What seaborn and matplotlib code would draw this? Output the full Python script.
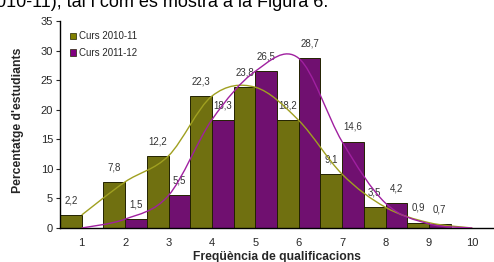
import numpy as np
import pandas as pd
import matplotlib
matplotlib.use("Agg")
import matplotlib.pyplot as plt
from matplotlib.path import Path
from matplotlib.patches import PathPatch, Patch
import seaborn as sns

# dades
notes = ["1", "2", "3", "4", "5", "6", "7", "8", "9", "10"]
curs_2010 = [2.2, 7.8, 12.2, 22.3, 23.8, 18.2, 9.1, 3.5, 0.9, 0.0]
curs_2011 = [0.0, 1.5, 5.5, 18.3, 26.5, 28.7, 14.6, 4.2, 0.7, 0.0]
cursos = ["Curs 2010-11", "Curs 2011-12"]

df = pd.DataFrame({
    "nota": notes * 2,
    "pct": curs_2010 + curs_2011,
    "curs": [cursos[0]] * len(notes) + [cursos[1]] * len(notes),
})

olive = "#808000"
purple = "#800080"

sns.set_style("white")
plt.rcParams["font.family"] = ["Liberation Sans", "DejaVu Sans"]

fig = plt.figure(figsize=(4.94, 2.62), dpi=100)
ax = fig.add_axes([60 / 494, 1 - 228 / 262, 434 / 494, 207 / 262])

sns.barplot(data=df, x="nota", y="pct", hue="curs", palette=[olive, purple],
            width=1.0, edgecolor="#222200", linewidth=0.7, legend=False, ax=ax)


# corba suavitzada (tipus Excel) que passa pels valors
def corba(vals, color):
    xs = np.arange(len(vals), dtype=float)
    ys = np.array(vals, dtype=float)
    pts = np.column_stack([xs, ys])
    verts = [pts[0]]
    codes = [Path.MOVETO]
    n = len(pts)
    for i in range(n - 1):
        p0 = pts[i - 1] if i > 0 else pts[i]
        p1, p2 = pts[i], pts[i + 1]
        p3 = pts[i + 2] if i + 2 < n else pts[i + 1]
        verts += [p1 + (p2 - p0) / 6, p2 - (p3 - p1) / 6, p2]
        codes += [Path.CURVE4] * 3
    ax.add_patch(PathPatch(Path(verts, codes), fill=False, edgecolor=color,
                           linewidth=1.0, zorder=4))


corba(curs_2010, "#a0a020")
corba(curs_2011, "#a020a0")

# etiquetes de dades
for cont, vals in zip(ax.containers, [curs_2010, curs_2011]):
    labels = [f"{v:.1f}".replace(".", ",") if v > 0 else "" for v in vals]
    ax.bar_label(cont, labels=labels, padding=7, fontsize=7, color="#333333")

ax.set_xlim(-0.5, 9.5)
ax.set_ylim(0, 35)
ax.set_yticks(range(0, 36, 5))
ax.tick_params(axis="y", left=True, length=3, width=0.8, labelsize=8, pad=2)
ax.tick_params(axis="x", bottom=False, labelsize=8, pad=4)
sns.despine(ax=ax)
for s in ["left", "bottom"]:
    ax.spines[s].set_color("black")
    ax.spines[s].set_linewidth(1.0)

ax.set_xlabel("Freqüència de qualificacions", fontsize=8.7, fontweight="bold")
ax.set_ylabel("Percentatge d'estudiants", fontsize=8.8, fontweight="bold")
ax.xaxis.set_label_coords(0.5, -0.11)
ax.yaxis.set_label_coords(-0.083, 0.52)

handles = [Patch(facecolor=olive, edgecolor="#222200", linewidth=0.5),
           Patch(facecolor=purple, edgecolor="#222200", linewidth=0.5)]
ax.legend(handles, cursos, loc="upper left", bbox_to_anchor=(0.015, 0.97),
          frameon=False, fontsize=7, handlelength=0.6, handleheight=0.6,
          handletextpad=0.3, labelspacing=0.7, borderaxespad=0)

fig.text(-0.008, 1 - 7.3 / 262, "010-11), tal i com es mostra a la Figura 6.",
         fontsize=13, va="baseline", ha="left", color="black")

fig.savefig("out.png", dpi=100)
